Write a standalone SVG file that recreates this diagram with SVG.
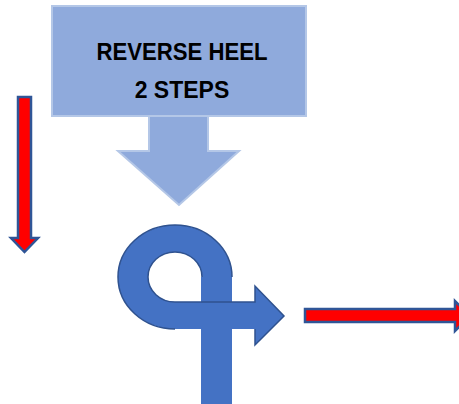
<svg xmlns="http://www.w3.org/2000/svg" width="459" height="404" viewBox="0 0 459 404">
<style>
.lb{fill:#8FAADC;stroke:#B4C7E7;stroke-width:2}
.red{fill:#FF0000;stroke:#2F5597;stroke-width:2.5;stroke-linejoin:miter}
.blue{fill:#4472C4}
.edge{fill:none;stroke:#2F528F;stroke-width:1.5}
.t{font-family:"Liberation Sans",Arial,sans-serif;font-weight:bold;font-size:23px;fill:#000;text-anchor:middle}
</style>
<g id="title-node">
<path class="lb" d="M149 112 L208 112 L208 151 L239 151 L179 205 L118 151 L149 151 Z"/>
<rect class="lb" x="52" y="6" width="254" height="110"/>
<text class="t" x="182" y="60" textLength="171" lengthAdjust="spacingAndGlyphs">REVERSE HEEL</text>
<text class="t" x="182" y="98">2 STEPS</text>
</g>
<g id="loop-arrow">
<rect class="blue" x="201" y="277" width="31" height="127"/>
<path class="blue" d="M232 277 A57 52 0 1 0 175 329 L255 329 L255 345 L284 316 L255 286 L255 302 L175 302 A27 25 0 1 1 202 277 Z"/>
<path class="edge" d="M232 277 A57 52 0 1 0 175 329"/>
<path class="edge" d="M202 277 A27 25 0 1 0 175 302 L255 302 L255 286 L284 316 L255 345 L255 329"/>
</g>
<g id="connectors">
<path class="red" d="M18 97 L31 97 L31 238 L38 238 L24.5 252 L11 238 L18 238 Z"/>
<path class="red" d="M305 309 L455 309 L455 301 L470 316 L455 331 L455 322 L305 322 Z"/>
</g>
</svg>
